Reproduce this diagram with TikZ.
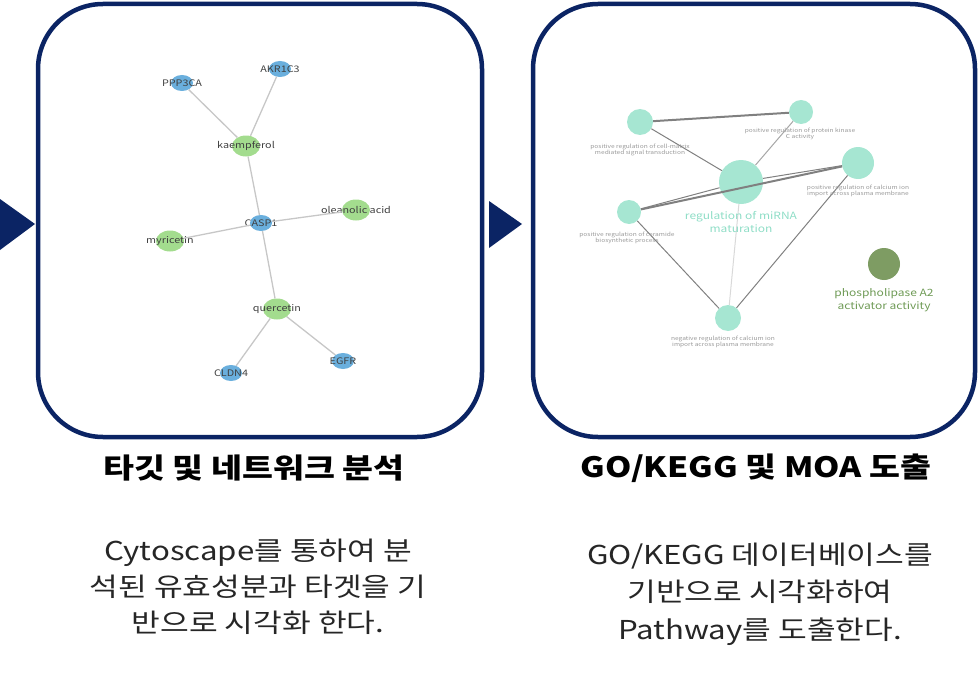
\documentclass[tikz,border=0pt]{standalone}
\usepackage{fontspec}
\setmainfont[FakeStretch=1.2]{Noto Sans CJK KR}
\usetikzlibrary{shapes.geometric}
\definecolor{cNavy}{HTML}{0B2464}
\definecolor{cBlue}{HTML}{6AAFDD}
\definecolor{cGreen}{HTML}{A3DC8E}
\definecolor{cTeal}{HTML}{A6E6D2}
\definecolor{cTealText}{HTML}{8EDDC6}
\definecolor{cOlive}{HTML}{7E9C63}
\definecolor{cOliveText}{HTML}{6E9A55}

\begin{document}
\begin{tikzpicture}[x=1pt,y=-1pt,
   panel/.style={draw=cNavy,line width=4.5pt,rounded corners=65pt},
   gene/.style={ellipse,fill=cBlue,minimum width=22pt,minimum height=16pt,inner sep=0pt},
   herb/.style={ellipse,fill=cGreen,minimum width=28pt,minimum height=21pt,inner sep=0pt},
   lbl/.style={font=\fontsize{9}{10}\selectfont,text=black!75},
   edge/.style={draw=black!22,line width=1.3pt},
   term/.style={circle,fill=cTeal,inner sep=0pt},
   gotxt/.style={font=\fontsize{5.5}{6.5}\selectfont,text=black!40,align=center},
   link/.style={draw=black!50,line width=1pt},
   heavy/.style={draw=black!50,line width=2pt},
   title/.style={font=\fontsize{28}{32}\selectfont\bfseries},
   body/.style={font=\fontsize{26}{36}\selectfont,align=center,text=black!85}]
  \useasboundingbox (0,0) rectangle (979,674);
  % panels and arrows
  \draw[panel] (38,4) rectangle (482,437);
  \draw[panel] (533,4) rectangle (975,437);
  \fill[cNavy] (0,199) -- (35,224) -- (0,250) -- cycle;
  \fill[cNavy] (489,201) -- (522,224) -- (489,248) -- cycle;
  % target network
  \node[gene,label={[lbl]center:PPP3CA}] (ppp) at (182,83) {};
  \node[gene,label={[lbl]center:AKR1C3}] (akr) at (280,69) {};
  \node[herb,label={[lbl]center:kaempferol}] (kae) at (246,146) {};
  \node[gene,label={[lbl]center:CASP1}] (casp) at (261,223) {};
  \node[herb,label={[lbl]center:oleanolic acid}] (ole) at (356,210) {};
  \node[herb,label={[lbl]center:myricetin}] (myr) at (170,241) {};
  \node[herb,label={[lbl]center:quercetin}] (que) at (277,309) {};
  \node[gene,label={[lbl]center:CLDN4}] (cld) at (231,373) {};
  \node[gene,label={[lbl]center:EGFR}] (egf) at (343,361) {};
  \draw[edge] (ppp) -- (kae);
  \draw[edge] (akr) -- (kae);
  \draw[edge] (kae) -- (casp);
  \draw[edge] (casp) -- (ole);
  \draw[edge] (casp) -- (myr);
  \draw[edge] (casp) -- (que);
  \draw[edge] (que) -- (cld);
  \draw[edge] (que) -- (egf);
  % GO / KEGG network
  \node[term,minimum size=26pt] (ta) at (640,122) {};
  \node[term,minimum size=24pt] (tb) at (801,112) {};
  \node[term,minimum size=44pt] (tc) at (741,182) {};
  \node[term,minimum size=32pt] (td) at (858,163) {};
  \node[term,minimum size=24pt] (te) at (629,212) {};
  \node[term,minimum size=26pt] (tf) at (728,318) {};
  \node[circle,fill=cOlive,inner sep=0pt,minimum size=32pt] (tg) at (884,264) {};
  \draw[heavy] (ta) -- (tb);
  \draw[link] (ta) -- (tc);
  \draw[link,draw=black!35] (tb) -- (tc);
  \draw[heavy] (te) -- (td);
  \draw[link] (te) -- (tc);
  \draw[link] (tc) -- (td);
  \draw[link] (te) -- (tf);
  \draw[link,draw=black!15] (tc) -- (tf);
  \draw[link] (td) -- (tf);
  \node[gotxt] (la) at (640,150) {positive regulation of cell-matrix\\mediated signal transduction};
  \node[gotxt] (lb) at (800,134) {positive regulation of protein kinase\\C activity};
  \node[gotxt] (ld) at (858,191) {positive regulation of calcium ion\\import across plasma membrane};
  \node[gotxt] (le) at (627,238) {positive regulation of ceramide\\biosynthetic process};
  \node[gotxt] (lf) at (723,342) {negative regulation of calcium ion\\import across plasma membrane};
  \node[font=\fontsize{10}{13}\selectfont,text=cTealText,align=center] (lc) at (741,222)
     {regulation of miRNA\\maturation};
  \node[font=\fontsize{10}{13}\selectfont,text=cOliveText,align=center] (lg) at (884,300)
     {phospholipase A2\\activator activity};
  % captions
  \node[title] (t1) at (254,468) {타깃 및 네트워크 분석};
  \node[title] (t2) at (756,468) {GO/KEGG 및 MOA 도출};
  \node[body] (d1) at (258,587) {Cytoscape를 통하여 분\\석된 유효성분과 타겟을 기\\반으로 시각화 한다.};
  \node[body,font=\fontsize{26}{37.5}\selectfont] (d2) at (760,594) {GO/KEGG 데이터베이스를\\기반으로 시각화하여\\Pathway를 도출한다.};
\end{tikzpicture}
\end{document}
